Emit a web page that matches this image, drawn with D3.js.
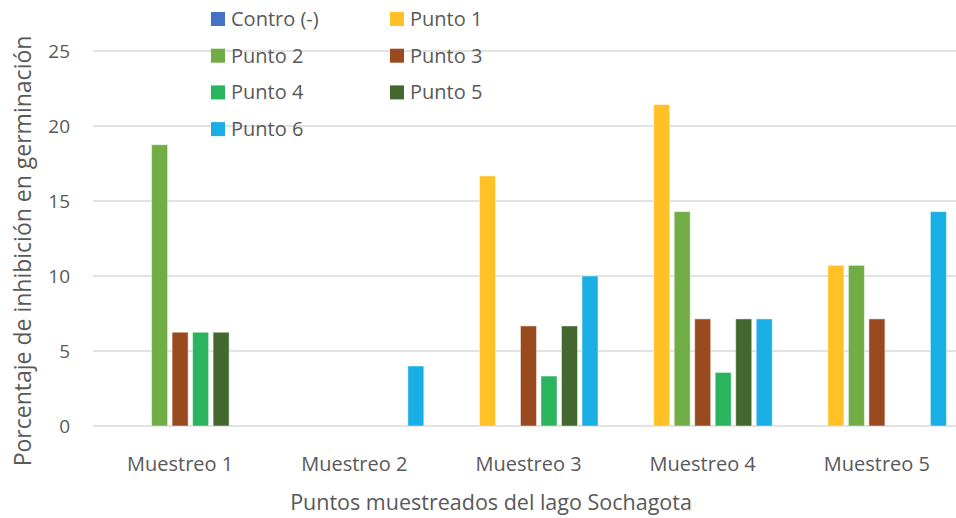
<!DOCTYPE html>
<html>
<head>
<meta charset="utf-8">
<script src="https://cdn.jsdelivr.net/npm/d3@7"></script>
<style>
  body { margin: 0; background: #fff; }
  svg { display: block; font-family: "Open Sans", sans-serif; }
</style>
</head>
<body>
<svg id="chart" width="956" height="518"></svg>
<script>
// données
const muestreos = ["Muestreo 1", "Muestreo 2", "Muestreo 3", "Muestreo 4", "Muestreo 5"];
const series = ["Contro (-)", "Punto 1", "Punto 2", "Punto 3", "Punto 4", "Punto 5", "Punto 6"];
const colors = ["#4472C4", "#FFC125", "#70AD47", "#9A4A1F", "#2BB45E", "#43682F", "#1AAFE4"];
const contro = [0, 0, 0, 0, 0];
const punto1 = [0, 0, 16.67, 21.43, 10.71];
const punto2 = [18.75, 0, 0, 14.29, 10.71];
const punto3 = [6.25, 0, 6.67, 7.14, 7.14];
const punto4 = [6.25, 0, 3.33, 3.57, 0];
const punto5 = [6.25, 0, 6.67, 7.14, 0];
const punto6 = [0, 4, 10, 7.14, 14.29];
const yTicks = [0, 5, 10, 15, 20, 25];

const values = [contro, punto1, punto2, punto3, punto4, punto5, punto6];

const svg = d3.select("#chart");
const plotLeft = 93, plotRight = 964, plotTop = 51, plotBottom = 426;

const x0 = d3.scaleBand().domain(muestreos).range([plotLeft, plotRight]).paddingInner(0.176).paddingOuter(0.088);
const x1 = d3.scaleBand().domain(series).range([0, x0.bandwidth()]).paddingInner(0.22).paddingOuter(0.11);
const y = d3.scaleLinear().domain([0, 25]).range([plotBottom, plotTop]);

// lignes de la grille
svg.append("g")
  .selectAll("line")
  .data(yTicks)
  .join("line")
  .attr("x1", plotLeft).attr("x2", plotRight)
  .attr("y1", d => y(d)).attr("y2", d => y(d))
  .attr("stroke", "#d9d9d9")
  .attr("stroke-width", 1.5);

// axe y
const yAxis = svg.append("g")
  .attr("transform", `translate(${plotLeft},0)`)
  .call(d3.axisLeft(y).tickValues(yTicks).tickSize(0).tickPadding(23));
yAxis.select(".domain").remove();
yAxis.selectAll("text").attr("font-size", 19).attr("fill", "#595959").attr("font-family", "Open Sans");

// barres
muestreos.forEach((m, i) => {
  const g = svg.append("g").attr("transform", `translate(${x0(m)},0)`);
  series.forEach((s, j) => {
    const v = values[j][i];
    if (v <= 0) return;
    g.append("rect")
      .attr("x", x1(s))
      .attr("width", x1.bandwidth())
      .attr("y", y(v))
      .attr("height", y(0) - y(v))
      .attr("fill", colors[j])
      .attr("stroke", "#ffffff")
      .attr("stroke-opacity", 0.45)
      .attr("stroke-width", 1);
  });
});

// axe x
const xAxis = svg.append("g")
  .attr("transform", `translate(0,${plotBottom})`)
  .call(d3.axisBottom(x0).tickSize(0).tickPadding(31));
xAxis.select(".domain").remove();
xAxis.selectAll("text").attr("font-size", 20).attr("fill", "#595959").attr("font-family", "Open Sans");

// titres des axes
svg.append("text")
  .attr("x", 491).attr("y", 510)
  .attr("text-anchor", "middle")
  .attr("font-size", 21.5)
  .attr("fill", "#595959")
  .text("Puntos muestreados del lago Sochagota");

svg.append("text")
  .attr("transform", "translate(31,251) rotate(-90)")
  .attr("text-anchor", "middle")
  .attr("font-size", 23)
  .attr("fill", "#595959")
  .text("Porcentaje de inhibición en germinación");

// légende
const legend = svg.append("g");
series.forEach((s, j) => {
  const lx = j % 2 === 0 ? 211 : 390;
  const ly = 19 + Math.floor(j / 2) * 36.7;
  legend.append("rect")
    .attr("x", lx).attr("y", ly - 7)
    .attr("width", 14).attr("height", 14)
    .attr("fill", colors[j]);
  legend.append("text")
    .attr("x", lx + 20).attr("y", ly)
    .attr("dy", "0.35em")
    .attr("font-size", 20)
    .attr("fill", "#595959")
    .text(s);
});
</script>
</body>
</html>
